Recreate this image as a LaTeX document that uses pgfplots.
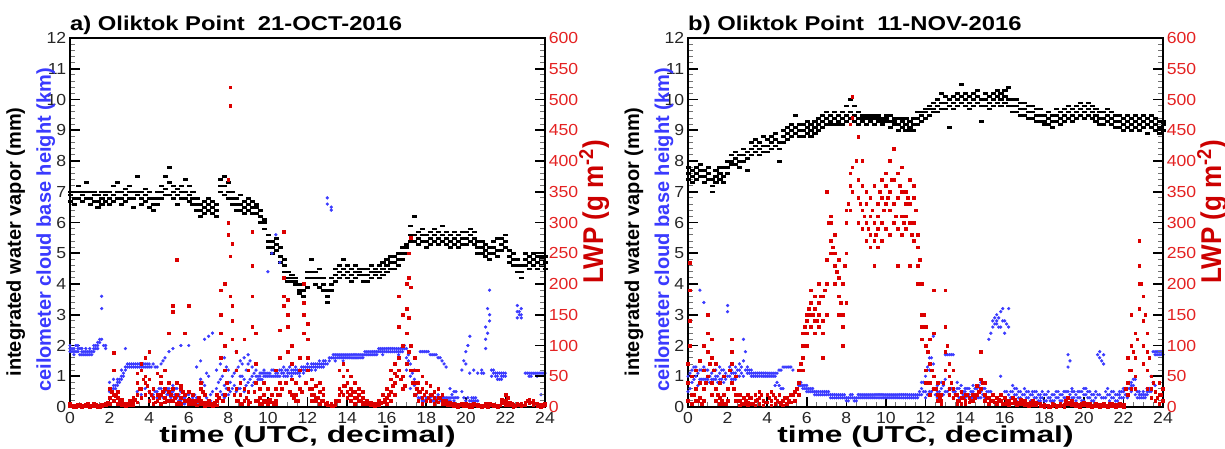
\documentclass[border=0pt]{standalone}
\usepackage{fontspec}
\setmainfont{Liberation Sans}
\usepackage{graphicx}
\usepackage{pgfplots}
\usepackage{pgfplotstable}
\pgfplotsset{compat=1.18}
\definecolor{cbh}{RGB}{58,58,255}
\definecolor{lwp}{RGB}{220,0,0}
\definecolor{lwptick}{RGB}{228,34,34}
\definecolor{lwplab}{RGB}{204,0,0}

% ---------------- Panel a data ----------------
\pgfplotstableread{
t a b c
0.0 6.9 6.7 7.0
0.2 6.8 7.0 6.6
0.4 7.0 6.8 7.2
0.6 6.9 6.7 7.0
0.8 7.0 6.8 7.3
1.0 6.8 6.6 7.0
1.2 6.9 6.7 7.0
1.4 6.7 6.5 6.9
1.6 6.8 7.0 6.6
1.8 6.9 7.0 6.7
2.0 6.8 6.6 7.0
2.2 6.9 7.2 6.7
2.4 7.0 6.8 7.3
2.6 6.8 6.6 7.0
2.8 6.9 7.1 6.7
3.0 7.0 6.8 7.2
3.2 6.8 6.5 7.0
3.4 6.9 7.0 7.5
3.6 6.8 6.6 7.0
3.8 6.7 6.9 7.1
4.0 6.8 6.5 7.0
4.2 6.6 6.8 6.4
4.4 6.8 7.0 6.6
4.6 7.0 6.8 7.2
4.8 6.9 7.1 7.5
5.0 6.9 7.3 7.8
5.2 7.0 6.8 7.2
5.4 6.9 6.6 7.1
5.6 7.0 7.2 6.8
5.8 7.0 7.4 6.8
6.0 6.9 6.7 7.2
6.2 6.8 6.6 7.0
6.4 6.6 6.4 6.8
6.6 6.4 6.6 6.2
6.8 6.5 6.3 6.7
7.0 6.6 6.4 6.8
7.2 6.5 6.7 6.3
7.4 6.4 6.6 6.2
7.6 7.2 7.4 7.0
7.8 7.2 7.5 6.9
8.0 7.0 6.8 7.3
8.2 6.8 6.6 7.0
8.4 6.6 6.4 6.8
8.6 6.6 6.4 6.9
8.8 6.5 6.7 6.3
9.0 6.6 6.8 6.4
9.2 6.5 6.7 6.3
9.4 6.5 6.3 6.6
9.6 6.2 6.0 6.4
9.8 6.0 5.8 6.1
10.0 5.4 5.2 5.6
10.2 5.2 5.0 5.4
10.4 5.3 5.1 5.5
10.6 4.9 4.7 5.2
10.8 4.6 4.8 4.4
11.0 4.2 4.4 4.1
11.2 4.2 4.3 4.1
11.4 4.1 4.0 4.2
11.6 3.8 4.0 3.7
11.8 3.8 3.6 4.0
12.0 4.2 4.4 3.9
12.2 4.4 4.2 4.8
12.4 4.2 4.0 4.4
12.6 4.2 3.9 4.5
12.8 4.0 3.8 4.2
13.0 3.8 3.6 3.4
13.2 4.0 3.8 4.2
13.4 4.3 4.1 4.5
13.6 4.4 4.2 4.6
13.8 4.5 4.3 4.8
14.0 4.4 4.2 4.6
14.2 4.3 4.5 4.1
14.4 4.4 4.2 4.6
14.6 4.5 4.3 4.4
14.8 4.3 4.1 4.5
15.0 4.3 4.1 4.5
15.2 4.4 4.2 4.6
15.4 4.5 4.3 4.4
15.6 4.4 4.6 4.2
15.8 4.5 4.7 4.3
16.0 4.6 4.4 4.8
16.2 4.7 4.5 4.9
16.4 4.7 4.5 4.9
16.6 4.8 4.6 5.0
16.8 5.0 4.8 5.2
17.0 5.2 5.0 5.3
17.2 5.4 5.6 5.9
17.4 5.6 5.4 6.2
17.6 5.5 5.7 5.3
17.8 5.6 5.4 5.8
18.0 5.4 5.6 5.2
18.2 5.5 5.3 5.7
18.4 5.6 5.4 5.8
18.6 5.5 5.7 5.3
18.8 5.4 5.6 5.9
19.0 5.5 5.3 5.7
19.2 5.4 5.6 5.2
19.4 5.5 5.7 5.3
19.6 5.4 5.2 5.6
19.8 5.5 5.3 5.7
20.0 5.5 5.7 5.3
20.2 5.4 5.6 5.8
20.4 5.5 5.3 5.7
20.6 5.2 5.4 5.0
20.8 5.2 5.0 5.4
21.0 5.1 5.3 4.9
21.2 5.0 5.2 4.8
21.4 5.2 5.4 5.0
21.6 5.1 4.9 5.5
21.8 5.3 5.5 5.1
22.0 5.4 5.6 5.2
22.2 4.9 5.1 4.7
22.4 4.8 5.0 4.6
22.6 4.8 4.6 4.4
22.8 4.6 4.4 4.2
23.0 4.8 4.6 5.0
23.2 4.7 4.9 4.5
23.4 4.8 4.6 5.0
23.6 4.7 4.9 4.5
23.8 4.8 4.6 4.9
24.0 4.7 4.9 4.5
}\iwvA

\pgfplotstableread{
t a b c
0.0 1.9 1.8 2.0
0.2 1.8 1.9 1.7
0.4 1.9 1.8 2.0
0.6 1.8 1.7 1.9
0.8 1.8 1.7 1.9
1.0 1.7 1.8 1.9
1.2 1.8 1.9 2.0
1.4 2.0 2.1 1.9
1.6 2.2 3.2 3.6
1.8 2.0 1.9 nan
2.0 0.6 0.8 0.5
2.2 0.6 0.7 0.9
2.4 0.8 0.9 0.7
2.6 1.0 1.2 0.9
2.8 1.3 1.2 1.9
3.0 1.4 1.3 nan
3.2 1.4 1.3 nan
3.4 1.4 1.3 0.5
3.6 1.3 1.4 0.4
3.8 1.4 1.3 0.6
4.0 1.3 1.4 0.5
4.2 1.4 0.4 0.3
4.4 1.3 0.3 0.5
4.6 1.4 0.6 0.4
4.8 1.6 0.3 0.5
5.0 1.8 0.4 0.6
5.2 1.9 0.5 0.7
5.4 0.6 0.4 0.3
5.6 2.0 0.2 0.5
5.8 0.1 0.3 0.2
6.0 2.0 0.2 0.4
6.2 0.1 0.3 nan
6.4 1.3 0.3 0.1
6.6 1.5 0.6 0.9
6.8 2.2 0.7 0.4
7.0 2.3 1.0 0.2
7.2 2.4 0.5 nan
7.4 1.2 0.6 nan
7.6 0.5 0.9 1.4
7.8 1.6 0.3 0.7
8.0 0.4 0.8 1.2
8.2 0.6 1.0 nan
8.4 1.8 1.2 0.5
8.6 1.5 0.6 1.0
8.8 1.6 0.9 0.5
9.0 1.4 0.8 1.7
9.2 1.0 0.7 1.3
9.4 0.8 1.0 1.2
9.6 1.0 0.9 1.1
9.8 1.0 1.1 1.2
10.0 1.1 1.0 4.4
10.2 1.0 1.2 5.0
10.4 1.1 1.0 5.6
10.6 1.2 1.0 4.7
10.8 1.1 1.3 1.0
11.0 1.0 1.2 1.1
11.2 1.2 1.1 1.0
11.4 1.1 1.3 1.2
11.6 1.2 1.1 1.0
11.8 1.2 1.3 1.1
12.0 1.3 1.2 1.4
12.2 1.2 1.4 1.3
12.4 1.3 1.4 1.2
12.6 1.4 1.3 1.5
12.8 1.3 1.5 1.4
13.0 1.4 6.6 6.8
13.2 1.6 6.4 6.5
13.4 1.6 1.7 1.5
13.6 1.6 1.7 nan
13.8 1.6 1.5 1.7
14.0 1.6 1.7 nan
14.2 1.6 1.7 nan
14.4 1.6 1.7 nan
14.6 1.7 1.6 nan
14.8 1.7 1.6 nan
15.0 1.7 1.8 nan
15.2 1.7 1.8 nan
15.4 1.8 1.7 nan
15.6 1.8 1.9 nan
15.8 1.8 1.9 1.7
16.0 1.9 1.8 nan
16.2 1.8 1.9 nan
16.4 1.9 1.8 nan
16.6 1.8 1.9 1.7
16.8 1.9 2.0 1.8
17.0 1.9 1.6 1.2
17.2 1.4 1.0 0.6
17.4 0.7 0.9 1.2
17.6 0.8 0.3 nan
17.8 1.8 0.3 0.2
18.0 1.8 0.3 0.2
18.2 1.7 0.3 0.4
18.4 1.7 0.2 0.3
18.6 1.6 0.3 0.4
18.8 1.5 0.3 0.2
19.0 1.3 0.2 0.3
19.2 0.3 0.2 0.6
19.4 0.3 0.5 0.2
19.6 0.3 nan nan
19.8 1.2 0.5 nan
20.0 1.8 1.4 0.2
20.2 2.3 1.1 0.2
20.4 1.2 0.3 0.2
20.6 1.1 0.2 nan
20.8 1.1 1.2 nan
21.0 2.2 1.9 2.6
21.2 3.0 3.8 2.8
21.4 1.1 1.2 nan
21.6 1.0 0.9 1.1
21.8 1.0 1.1 0.9
22.0 1.0 1.1 nan
22.6 3.1 2.9 3.3
22.8 3.0 3.2 2.9
23.0 1.1 nan nan
23.2 1.1 1.0 nan
23.4 1.1 nan nan
23.6 1.1 1.0 nan
23.8 1.1 0.4 nan
24.0 1.1 nan nan
}\cbhA

% extra cloud-base samples between the rows above (panel a)
\pgfplotstableread{
t a b
0.1 1.9 1.8
0.3 1.8 2.0
0.5 1.9 1.7
0.7 1.8 1.7
0.9 1.7 1.8
1.1 1.8 1.7
1.3 1.9 2.0
1.5 2.1 2.2
1.7 2.0 nan
2.1 0.6 0.5
2.3 0.7 0.6
2.5 0.9 0.8
2.7 1.1 1.0
2.9 1.3 1.4
3.1 1.3 1.4
3.3 1.3 1.4
3.5 1.4 1.3
3.7 1.3 1.4
3.9 1.4 1.3
4.1 1.3 0.4
4.3 1.3 0.5
4.5 0.4 0.6
4.7 1.5 0.3
4.9 0.4 0.6
5.1 0.5 0.3
5.3 0.6 0.4
5.5 0.2 0.4
5.7 0.3 0.1
5.9 0.2 0.4
6.1 0.2 0.1
6.3 0.2 0.4
6.7 0.8 0.5
6.9 0.3 1.1
7.1 0.4 0.2
7.5 0.8 0.3
7.7 1.0 0.4
7.9 0.6 1.3
8.1 0.8 0.5
8.3 1.1 0.7
8.5 1.3 0.6
8.7 1.0 1.4
8.9 0.7 1.2
9.1 0.9 1.5
9.3 1.1 0.8
9.5 1.0 0.9
9.7 1.1 0.9
9.9 1.0 1.1
10.1 1.1 1.0
10.3 1.0 1.2
10.5 1.1 1.0
10.7 1.1 1.2
10.9 1.2 1.0
11.1 1.1 1.3
11.3 1.1 1.2
11.5 1.1 1.2
11.7 1.2 1.3
11.9 1.3 1.2
12.1 1.3 1.2
12.3 1.3 1.4
12.5 1.4 1.3
12.7 1.4 1.3
12.9 1.5 1.4
13.1 1.6 1.5
13.3 1.6 1.7
13.5 1.7 1.6
13.7 1.6 1.7
13.9 1.7 1.6
14.1 1.6 1.7
14.3 1.7 1.6
14.5 1.7 1.6
14.7 1.7 1.6
14.9 1.7 1.8
15.1 1.8 1.7
15.3 1.8 1.7
15.5 1.8 1.7
15.7 1.8 1.9
15.9 1.9 1.8
16.1 1.8 1.9
16.3 1.9 1.8
16.5 1.8 1.9
16.7 1.9 1.8
16.9 2.0 1.9
17.1 1.7 1.5
17.3 0.8 1.1
17.5 0.6 0.4
17.7 1.8 0.3
17.9 1.8 0.2
18.1 1.8 0.3
18.3 1.7 0.2
18.5 1.7 0.3
18.7 1.6 0.2
18.9 1.4 0.3
19.1 0.3 0.2
19.3 0.3 0.4
19.5 0.5 0.3
19.9 1.5 0.3
20.1 2.0 0.3
20.3 0.2 0.3
20.5 0.2 0.3
20.9 1.1 nan
21.1 3.2 2.4
21.3 1.2 1.0
21.5 1.1 1.0
21.7 0.9 1.1
21.9 1.0 1.1
22.7 3.0 3.1
23.1 1.1 nan
23.3 1.1 1.0
23.5 1.1 nan
23.7 1.1 nan
23.9 1.1 nan
}\cbhAx

\pgfplotstableread{
t a b c d
0.0 2 5 nan nan
0.2 3 1 nan nan
0.4 2 4 nan nan
0.6 3 1 nan nan
0.8 2 4 nan nan
1.0 3 1 nan nan
1.2 2 5 nan nan
1.4 3 1 nan nan
1.6 2 4 nan nan
1.8 3 6 nan nan
2.0 5 15 30 nan
2.2 20 10 60 88
2.4 15 25 5 nan
2.6 8 3 12 nan
2.8 5 2 nan nan
3.0 6 10 3 nan
3.2 10 4 15 nan
3.4 20 40 8 55
3.6 30 60 70 15
3.8 50 40 80 20
4.0 90 25 10 45
4.2 15 5 30 nan
4.4 10 20 55 nan
4.6 40 50 20 5
4.8 30 15 60 8
5.0 120 25 10 40
5.2 155 165 30 10
5.4 240 40 20 5
5.6 30 15 5 35
5.8 120 20 10 nan
6.0 165 25 5 12
6.2 20 10 5 nan
6.4 10 3 nan nan
6.6 30 10 40 5
6.8 20 8 2 nan
7.0 10 4 nan nan
7.2 5 2 nan nan
7.4 20 10 3 nan
7.6 80 120 150 190
7.8 200 100 60 20
8.0 370 300 280 30
8.1 520 490 245 180
8.2 265 165 140 110
8.4 90 60 30 10
8.6 20 40 5 nan
8.8 110 30 10 nan
9.0 60 25 10 5
9.2 285 230 180 130
9.4 120 40 70 10
9.6 30 15 5 nan
9.8 20 40 10 nan
10.0 10 30 5 nan
10.2 20 8 nan nan
10.4 60 30 10 5
10.6 125 40 80 20
10.8 285 210 180 165
11.0 175 150 130 90
11.2 100 70 45 20
11.4 40 20 10 nan
11.6 60 30 80 nan
11.8 200 170 150 120
12.0 135 110 80 60
12.2 45 30 20 10
12.4 35 15 10 nan
12.6 40 25 5 nan
12.8 20 30 10 nan
13.0 8 3 nan nan
13.2 5 2 nan nan
13.4 10 4 nan nan
13.6 30 20 60 10
13.8 50 35 70 20
14.0 40 25 15 60
14.2 30 50 20 10
14.4 40 25 15 5
14.6 30 20 10 nan
14.8 25 15 5 nan
15.0 10 5 nan nan
15.2 8 3 nan nan
15.4 5 2 nan nan
15.6 10 3 nan nan
15.8 8 20 nan nan
16.0 30 15 5 nan
16.2 45 25 60 10
16.4 55 40 70 20
16.6 80 130 180 60
16.8 150 100 50 30
17.0 200 160 120 70
17.1 250 210 145 90
17.2 275 195 100 60
17.4 80 60 40 20
17.6 60 40 25 10
17.8 50 30 15 5
18.0 40 25 10 nan
18.2 35 20 10 nan
18.4 25 15 5 nan
18.6 30 15 8 nan
18.8 20 10 5 nan
19.0 10 5 nan nan
19.2 8 3 nan nan
19.4 5 2 nan nan
19.6 4 1 nan nan
19.8 3 6 nan nan
20.0 2 5 nan nan
20.2 4 1 nan nan
20.4 3 6 nan nan
20.6 2 4 nan nan
20.8 3 1 nan nan
21.0 5 2 nan nan
21.2 3 6 nan nan
21.4 2 4 nan nan
21.6 3 1 nan nan
21.8 6 12 nan nan
22.0 20 10 4 nan
22.2 8 3 nan nan
22.4 4 1 nan nan
22.6 3 6 nan nan
22.8 2 5 nan nan
23.0 8 3 nan nan
23.2 12 6 nan nan
23.4 10 4 nan nan
23.6 6 2 nan nan
23.8 4 1 nan nan
24.0 3 6 nan nan
}\lwpA

% extra LWP samples between the rows above (panel a)
\pgfplotstableread{
t a
0.1 3
0.3 1
0.5 4
0.7 2
0.9 5
1.1 2
1.3 4
1.5 1
1.7 3
1.9 8
2.1 25
2.3 18
2.5 10
2.7 6
2.9 3
3.1 5
3.3 12
3.5 30
3.7 45
3.9 35
4.1 20
4.3 8
4.5 15
4.7 25
4.9 10
5.1 20
5.3 15
5.5 8
5.7 25
5.9 10
6.1 5
6.3 8
6.5 15
6.7 25
6.9 5
7.1 3
7.3 8
7.5 15
7.7 10
7.9 40
8.3 20
8.5 10
8.7 5
8.9 15
9.1 8
9.3 25
9.5 10
9.7 5
9.9 8
10.1 12
10.3 5
10.5 20
10.7 30
10.9 40
11.1 25
11.3 15
11.5 10
11.7 25
11.9 40
12.1 30
12.3 20
12.5 15
12.7 10
12.9 5
13.1 3
13.3 2
13.5 10
13.7 25
13.9 35
14.1 20
14.3 25
14.5 15
14.7 10
14.9 8
15.1 5
15.3 3
15.5 4
15.7 6
15.9 12
16.1 20
16.3 35
16.5 50
16.7 45
16.9 35
17.3 40
17.5 30
17.7 25
17.9 20
18.1 15
18.3 20
18.5 10
18.7 15
18.9 8
19.1 4
19.3 3
19.5 2
19.7 4
19.9 2
20.1 3
20.3 1
20.5 4
20.7 2
20.9 3
21.1 1
21.3 4
21.5 2
21.7 3
21.9 8
22.1 15
22.3 5
22.5 2
22.7 4
22.9 3
23.1 10
23.3 8
23.5 6
23.7 3
23.9 2
}\lwpAx

% ---------------- Panel b data ----------------
\pgfplotstableread{
t a b c
0.0 7.6 7.4 7.8
0.2 7.5 7.7 7.3
0.4 7.6 7.8 7.4
0.6 7.7 7.5 7.9
0.8 7.5 7.3 7.7
1.0 7.6 7.4 7.8
1.2 7.4 7.2 7.0
1.4 7.5 7.7 7.3
1.6 7.6 7.4 7.8
1.8 7.5 7.3 7.8
2.0 7.8 8.0 7.6
2.2 8.0 8.2 7.9
2.4 8.1 7.9 8.3
2.6 8.0 8.2 7.8
2.8 8.2 8.0 8.4
3.0 8.3 8.1 7.7
3.2 8.4 8.2 8.6
3.4 8.5 8.3 8.7
3.6 8.4 8.6 8.2
3.8 8.5 8.3 8.8
4.0 8.5 8.7 8.3
4.2 8.6 8.4 8.8
4.4 8.7 8.5 8.9
4.6 8.6 8.4 8.0
4.8 8.8 8.6 9.0
5.0 8.9 8.7 9.1
5.2 9.0 8.8 9.2
5.4 9.1 8.9 9.5
5.6 9.0 9.2 8.8
5.8 9.0 8.8 9.2
6.0 9.1 8.9 9.3
6.2 9.0 9.2 8.8
6.4 9.1 8.9 9.3
6.6 9.2 9.0 9.4
6.8 9.3 9.1 9.5
7.0 9.4 9.2 9.6
7.2 9.3 9.5 9.2
7.4 9.4 9.2 9.6
7.6 9.3 9.5 9.2
7.8 9.4 9.2 9.6
8.0 9.5 9.3 9.8
8.2 9.4 9.6 10.0
8.4 9.3 9.5 9.8
8.6 9.4 9.2 9.6
8.8 9.4 9.3 9.5
9.0 9.4 9.2 9.5
9.2 9.3 9.5 9.4
9.4 9.4 9.2 9.5
9.6 9.3 9.5 9.4
9.8 9.4 9.2 9.3
10.0 9.3 9.5 9.4
10.2 9.3 9.1 9.5
10.4 9.4 9.2 9.3
10.6 9.2 9.0 9.4
10.8 9.3 9.1 9.4
11.0 9.2 9.0 9.4
11.2 9.1 9.3 9.0
11.4 9.2 9.0 9.4
11.6 9.4 9.2 9.6
11.8 9.5 9.3 9.6
12.0 9.6 9.4 9.7
12.2 9.7 9.5 9.8
12.4 9.7 9.9 9.6
12.6 9.8 10.0 9.6
12.8 9.9 9.7 10.2
13.0 9.9 9.7 10.1
13.2 10.0 9.8 9.1
13.4 9.9 10.1 9.7
13.6 10.0 9.8 10.2
13.8 10.1 9.9 10.5
14.0 10.0 9.8 10.2
14.2 9.9 10.1 9.7
14.4 10.0 9.8 10.2
14.6 9.9 10.1 10.3
14.8 10.0 9.8 9.3
15.0 10.0 9.8 10.2
15.2 9.9 10.1 9.7
15.4 10.0 9.8 10.2
15.6 9.9 10.1 10.3
15.8 10.0 9.8 10.2
16.0 10.1 9.9 10.3
16.2 10.0 9.8 10.4
16.4 9.8 10.0 9.6
16.6 9.8 9.6 10.0
16.8 9.7 9.9 9.5
17.0 9.7 9.5 9.9
17.2 9.6 9.4 9.8
17.4 9.6 9.8 9.4
17.6 9.5 9.7 9.3
17.8 9.5 9.3 9.7
18.0 9.5 9.3 9.2
18.2 9.4 9.6 9.2
18.4 9.5 9.3 9.1
18.6 9.5 9.7 9.3
18.8 9.4 9.2 9.6
19.0 9.5 9.3 9.7
19.2 9.6 9.4 9.8
19.4 9.5 9.7 9.3
19.6 9.6 9.4 9.8
19.8 9.7 9.5 9.9
20.0 9.6 9.8 9.4
20.2 9.7 9.5 9.9
20.4 9.6 9.4 9.8
20.6 9.5 9.3 9.7
20.8 9.4 9.6 9.2
21.0 9.4 9.2 9.6
21.2 9.5 9.3 9.7
21.4 9.4 9.2 9.6
21.6 9.3 9.5 9.1
21.8 9.3 9.1 9.5
22.0 9.2 9.4 9.0
22.2 9.3 9.1 9.5
22.4 9.2 9.4 9.0
22.6 9.3 9.1 9.5
22.8 9.2 9.4 9.0
23.0 9.3 9.1 9.5
23.2 9.2 9.4 8.9
23.4 9.3 9.1 9.5
23.6 9.2 9.4 9.0
23.8 9.1 9.3 8.9
24.0 9.2 9.0 9.3
}\iwvB

\pgfplotstableread{
t a b c
0.0 0.5 1.0 0.2
0.2 0.8 1.2 0.4
0.4 1.0 1.3 0.6
0.6 1.2 0.9 3.8
0.8 0.9 1.3 3.4
1.0 0.9 1.2 1.0
1.2 0.8 1.1 0.9
1.4 0.9 1.2 1.0
1.6 1.1 0.9 1.3
1.8 1.0 1.2 0.8
2.0 1.0 3.3 3.1
2.2 1.2 0.9 1.1
2.4 1.1 1.3 0.9
2.6 1.2 1.0 1.4
2.8 1.5 2.2 1.0
3.0 1.2 1.1 1.3
3.2 1.1 1.2 1.0
3.4 1.1 1.0 nan
3.6 1.0 1.1 nan
3.8 1.0 1.1 nan
4.0 1.0 1.1 nan
4.2 1.0 1.1 nan
4.4 1.1 1.0 0.7
4.6 1.2 0.7 nan
4.8 1.3 0.6 nan
5.0 1.3 nan nan
5.2 1.3 nan nan
5.6 0.8 0.7 nan
5.8 0.7 0.6 nan
6.0 0.6 0.5 0.7
6.2 0.5 0.6 nan
6.4 0.5 0.4 nan
6.6 0.5 0.4 nan
6.8 0.4 0.5 nan
7.0 0.4 0.5 nan
7.2 0.4 0.3 nan
7.4 0.4 0.3 nan
7.6 0.3 0.4 nan
7.8 0.3 0.4 nan
8.0 0.3 0.2 nan
8.2 0.3 0.4 nan
8.4 0.3 0.2 nan
8.6 0.3 0.4 nan
8.8 0.3 0.4 nan
9.0 0.4 0.3 nan
9.2 0.3 0.4 nan
9.4 0.3 0.4 nan
9.6 0.4 0.3 nan
9.8 0.3 0.4 nan
10.0 0.3 0.4 nan
10.2 0.4 0.3 nan
10.4 0.3 0.4 nan
10.6 0.3 0.4 nan
10.8 0.4 0.3 nan
11.0 0.3 0.4 nan
11.2 0.4 0.3 nan
11.4 0.4 0.3 nan
11.6 0.4 0.3 nan
11.8 0.6 0.8 0.4
12.0 1.0 0.5 0.3
12.2 1.6 1.2 0.5
12.4 2.3 1.4 0.6
12.6 0.5 0.7 0.3
12.8 0.6 0.4 0.8
13.0 1.7 0.5 0.9
13.2 1.7 0.6 0.4
13.4 1.7 0.5 0.3
13.6 0.6 0.4 0.8
13.8 0.5 0.3 0.7
14.0 0.5 0.3 0.6
14.2 0.6 0.4 0.3
14.4 0.5 0.3 0.7
14.6 0.4 0.6 0.3
14.8 0.5 0.3 0.8
15.0 0.4 0.6 0.3
15.2 2.2 0.5 0.3
15.4 2.6 2.8 0.4
15.6 2.8 3.0 2.7
15.8 3.1 2.6 1.0
16.0 2.8 2.4 0.5
16.2 3.2 2.6 0.4
16.4 0.5 0.3 0.7
16.6 0.4 0.2 0.6
16.8 0.5 0.3 nan
17.0 0.4 0.2 0.6
17.2 0.3 0.5 nan
17.4 0.4 0.2 0.5
17.6 0.3 0.5 nan
17.8 0.3 0.2 0.4
18.0 0.2 0.4 nan
18.2 0.3 0.5 nan
18.4 0.4 0.2 nan
18.6 0.3 0.5 nan
18.8 0.4 0.2 nan
19.0 0.5 0.3 nan
19.2 1.3 1.7 0.5
19.4 0.5 0.3 0.6
19.6 0.4 0.2 nan
19.8 0.3 0.5 nan
20.0 0.4 0.2 0.6
20.2 0.5 0.3 nan
20.4 0.4 0.2 nan
20.6 0.5 0.3 nan
20.8 1.6 1.8 0.4
21.0 1.4 1.7 0.3
21.2 0.4 0.6 nan
21.4 0.3 0.5 nan
21.6 0.4 0.2 nan
21.8 0.5 0.3 0.4
22.0 0.5 0.3 0.6
22.2 0.4 0.6 0.3
22.4 0.7 0.8 0.5
22.6 0.6 0.9 0.4
22.8 0.4 0.3 0.5
23.0 0.3 0.4 0.5
23.2 0.5 0.4 0.6
23.4 1.0 0.6 0.5
23.6 1.8 1.7 0.7
23.8 1.8 1.7 nan
24.0 1.7 nan nan
}\cbhB

% extra cloud-base samples between the rows above (panel b)
\pgfplotstableread{
t a b
0.1 0.6 1.1
0.3 0.9 1.3
0.5 1.1 0.7
0.7 1.2 0.9
0.9 0.9 1.2
1.1 1.0 0.8
1.3 0.9 1.2
1.5 1.0 0.8
1.7 1.2 0.9
1.9 1.1 0.9
2.1 1.0 1.3
2.3 1.1 0.9
2.5 1.2 1.0
2.7 1.3 1.1
2.9 1.8 1.2
3.1 1.1 1.2
3.3 1.1 1.0
3.5 1.1 1.0
3.7 1.0 1.1
3.9 1.0 1.1
4.1 1.0 1.1
4.3 1.1 1.0
4.5 1.1 0.8
4.7 1.2 0.6
4.9 1.3 nan
5.1 1.3 nan
5.3 1.2 nan
5.7 0.8 0.7
5.9 0.6 0.7
6.1 0.6 0.5
6.3 0.5 0.6
6.5 0.5 0.4
6.7 0.5 0.4
6.9 0.4 0.5
7.1 0.4 0.5
7.3 0.4 0.3
7.5 0.4 0.3
7.7 0.3 0.4
7.9 0.3 0.4
8.1 0.3 0.2
8.3 0.3 0.4
8.5 0.3 0.2
8.7 0.3 0.4
8.9 0.4 0.3
9.1 0.3 0.4
9.3 0.3 0.4
9.5 0.4 0.3
9.7 0.3 0.4
9.9 0.4 0.3
10.1 0.3 0.4
10.3 0.4 0.3
10.5 0.3 0.4
10.7 0.4 0.3
10.9 0.3 0.4
11.1 0.4 0.3
11.3 0.3 0.4
11.5 0.4 0.3
11.7 0.5 0.4
11.9 0.8 0.5
12.1 1.3 0.4
12.3 1.6 0.5
12.5 0.6 0.4
12.7 0.5 0.3
12.9 0.7 0.4
13.1 1.7 0.5
13.3 1.7 0.6
13.5 0.5 0.4
13.7 0.6 0.3
13.9 0.5 0.4
14.1 0.4 0.6
14.3 0.5 0.3
14.5 0.6 0.4
14.7 0.7 0.3
14.9 0.4 0.6
15.1 0.5 0.3
15.3 2.4 0.5
15.5 2.9 2.7
15.7 2.9 2.6
15.9 2.8 3.2
16.1 2.7 0.5
16.3 0.5 0.3
16.5 0.4 0.6
16.7 0.3 0.5
16.9 0.4 0.2
17.1 0.5 0.3
17.3 0.4 0.2
17.5 0.3 0.5
17.7 0.4 0.2
17.9 0.3 0.5
18.1 0.4 0.2
18.3 0.3 0.2
18.5 0.2 0.4
18.7 0.3 0.5
18.9 0.4 0.2
19.1 0.3 0.5
19.3 1.5 0.4
19.5 0.5 0.3
19.7 0.3 0.5
19.9 0.5 0.2
20.1 0.4 0.6
20.3 0.3 0.5
20.5 0.4 0.2
20.7 1.7 0.4
20.9 1.5 0.3
21.1 0.5 0.3
21.3 0.4 0.2
21.5 0.5 0.3
21.7 0.4 0.2
21.9 0.5 0.3
22.1 0.4 0.6
22.3 0.8 0.6
22.5 0.9 0.7
22.7 0.5 0.3
22.9 0.3 0.4
23.1 0.4 0.3
23.3 0.6 0.5
23.5 1.8 0.8
23.7 1.8 1.7
23.9 1.8 1.7
}\cbhBx

\pgfplotstableread{
t a b c d
0.0 10 40 70 nan
0.1 235 190 140 100
0.2 50 20 5 nan
0.4 30 10 60 nan
0.6 40 15 75 nan
0.8 100 60 30 10
1.0 150 120 90 50
1.2 110 80 40 20
1.4 70 30 10 nan
1.6 40 15 5 nan
1.8 50 20 5 nan
2.0 30 10 nan nan
2.2 110 90 70 40
2.4 50 20 10 nan
2.6 20 10 3 nan
2.8 15 5 nan nan
3.0 20 8 3 nan
3.2 15 5 nan nan
3.4 20 10 3 nan
3.6 15 5 25 nan
3.8 10 3 nan nan
4.0 20 8 nan nan
4.2 25 10 3 nan
4.4 15 5 nan nan
4.6 20 8 nan nan
4.8 10 3 nan nan
5.0 15 5 nan nan
5.2 20 8 nan nan
5.4 25 10 nan nan
5.6 40 20 60 nan
5.8 100 80 120 60
6.0 140 120 100 150
6.2 170 150 130 190
6.4 160 140 180 120
6.6 200 170 130 150
6.8 180 140 80 120
7.0 240 200 150 350
7.2 300 310 270 250
7.4 250 280 230 200
7.6 240 210 180 150
7.8 150 100 130 200
8.0 320 300 250 170
8.2 380 360 320 460
8.3 505 470 390 350
8.6 440 370 340 300
8.8 360 320 290 400
9.0 330 300 270 350
9.2 310 280 260 340
9.4 300 270 230 360
9.6 330 290 260 310
9.8 370 340 300 270
10.0 360 330 290 380
10.2 350 320 280 400
10.4 420 370 330 300
10.6 380 340 290 230
10.8 390 350 310 280
11.0 350 330 290 310
11.2 370 330 300 230
11.4 340 300 270 360
11.6 260 230 280 200
11.8 200 150 110 130
12.0 130 100 60 40
12.2 110 70 40 20
12.4 190 120 50 30
12.6 40 20 10 nan
12.8 20 10 5 nan
13.0 190 130 90 60
13.2 70 50 30 20
13.4 30 15 60 nan
13.6 20 10 5 nan
13.8 15 25 5 nan
14.0 10 20 5 nan
14.2 15 8 nan nan
14.4 20 10 nan nan
14.6 35 20 nan nan
14.8 45 90 30 nan
15.0 20 10 40 nan
15.2 15 5 nan nan
15.4 10 20 nan nan
15.6 15 5 nan nan
15.8 20 10 nan nan
16.0 15 5 nan nan
16.2 10 4 nan nan
16.4 15 6 nan nan
16.6 8 3 nan nan
16.8 12 5 nan nan
17.0 10 4 nan nan
17.2 6 2 nan nan
17.4 10 4 nan nan
17.6 8 3 nan nan
17.8 5 2 nan nan
18.0 4 1 nan nan
18.2 3 1 nan nan
18.4 5 2 nan nan
18.6 3 1 nan nan
18.8 6 2 nan nan
19.0 4 1 nan nan
19.2 15 5 nan nan
19.4 10 4 nan nan
19.6 6 2 nan nan
19.8 4 1 nan nan
20.0 8 3 nan nan
20.2 5 2 nan nan
20.4 3 1 nan nan
20.6 6 2 nan nan
20.8 4 1 nan nan
21.0 5 2 nan nan
21.2 3 1 nan nan
21.4 6 2 nan nan
21.6 4 1 nan nan
21.8 5 2 nan nan
22.0 4 1 nan nan
22.2 80 40 20 nan
22.4 150 100 60 30
22.6 120 80 50 30
22.8 270 230 200 160
23.0 180 140 100 70
23.2 120 90 60 30
23.4 50 30 15 nan
23.6 25 10 nan nan
23.8 20 40 5 nan
24.0 30 10 nan nan
}\lwpB

% extra LWP samples between the rows above (panel b)
\pgfplotstableread{
t a
0.3 20
0.5 10
0.7 5
0.9 40
1.1 70
1.3 60
1.5 20
1.7 10
1.9 5
2.1 60
2.3 30
2.5 10
2.7 5
2.9 10
3.1 15
3.3 5
3.5 12
3.7 20
3.9 8
4.1 15
4.3 20
4.5 10
4.7 5
4.9 15
5.1 10
5.3 20
5.5 30
5.7 70
5.9 130
6.1 160
6.3 150
6.5 140
6.7 180
6.9 190
7.1 300
7.3 260
7.5 220
7.7 170
7.9 230
8.1 330
8.5 400
8.7 330
8.9 310
9.1 290
9.3 320
9.5 280
9.7 350
9.9 320
10.1 340
10.3 370
10.5 310
10.7 360
10.9 300
11.1 340
11.3 280
11.5 320
11.7 240
11.9 150
12.1 90
12.3 60
12.5 30
12.7 15
12.9 40
13.1 100
13.3 40
13.5 20
13.7 10
13.9 15
14.1 20
14.3 10
14.5 15
14.7 25
14.9 40
15.1 15
15.3 10
15.5 8
15.7 12
15.9 5
16.1 10
16.3 6
16.5 12
16.7 5
16.9 8
17.1 4
17.3 7
17.5 3
17.7 6
17.9 2
18.1 3
18.3 1
18.5 4
18.7 2
18.9 3
19.1 10
19.3 8
19.5 4
19.7 2
19.9 5
20.1 3
20.3 6
20.5 2
20.7 4
20.9 3
21.1 2
21.3 5
21.5 3
21.7 4
21.9 2
22.1 30
22.3 60
22.5 90
22.7 110
22.9 200
23.1 150
23.3 80
23.5 40
23.7 15
23.9 20
}\lwpBx

\pgfplotsset{
  common/.style={
    scale only axis, width=475pt, height=369pt, anchor=south west,
    xmin=0, xmax=24,
    tick align=inside,
    major tick length=10pt, minor tick length=5pt,
    every major tick/.append style={line width=1.6pt, black},
    every minor tick/.append style={line width=0.8pt, black!55},
    axis line style={line width=2pt, -},
    tick label style={font=\fontsize{16}{16}\selectfont, xscale=1.1},
    /pgf/number format/assume math mode=true,
  },
  leftax/.style={common,
    ymin=0, ymax=12,
    xtick distance=2, minor x tick num=3,
    ytick distance=1, minor y tick num=4,
    xtick pos=bottom, ytick pos=left,
    ticklabel style={text=black!85},
    xticklabel style={yshift=-2pt},
    xlabel={\scalebox{1.38}[1]{time (UTC, decimal)}},
    xlabel style={font=\bfseries\fontsize{23}{23}\selectfont, at={(axis description cs:0.5,0)}, anchor=base, yshift=-36pt},
  },
  rightax/.style={common,
    ymin=0, ymax=600,
    axis x line=none, axis y line*=right,
    ytick distance=50, minor y tick num=4,
    yticklabel style={text=lwptick},
  },
  iwv/.style={only marks, mark=square*, mark size=0.85pt, black, mark options={xscale=2.4, draw=none, fill=black}},
  cbhm/.style={only marks, mark=*, mark size=1.45pt, cbh, mark options={draw=none, fill=cbh}},
  lwpm/.style={only marks, mark=square*, mark size=1.35pt, lwp, mark options={draw=none, fill=lwp}},
}

\begin{document}
\begin{tikzpicture}
\useasboundingbox (-70pt,-42pt) rectangle (1155pt,407pt);

% ===== Panel a =====
\begin{axis}[leftax, at={(0pt,0pt)}]
\addplot[iwv] table[x=t,y=a] {\iwvA};
\addplot[iwv] table[x=t,y=b] {\iwvA};
\addplot[iwv] table[x=t,y=c] {\iwvA};
\addplot[cbhm] table[x=t,y=a] {\cbhA};
\addplot[cbhm] table[x=t,y=b] {\cbhA};
\addplot[cbhm] table[x=t,y=c] {\cbhA};
\addplot[cbhm] table[x=t,y=a] {\cbhAx};
\addplot[cbhm] table[x=t,y=b] {\cbhAx};
\end{axis}
\begin{axis}[rightax, at={(0pt,0pt)}]
\addplot[lwpm] table[x=t,y=a] {\lwpAx};
\addplot[lwpm] table[x=t,y=a] {\lwpA};
\addplot[lwpm] table[x=t,y=b] {\lwpA};
\addplot[lwpm] table[x=t,y=c] {\lwpA};
\addplot[lwpm] table[x=t,y=d] {\lwpA};
\end{axis}

% ===== Panel b =====
\begin{axis}[leftax, at={(618pt,0pt)}]
\addplot[iwv] table[x=t,y=a] {\iwvB};
\addplot[iwv] table[x=t,y=b] {\iwvB};
\addplot[iwv] table[x=t,y=c] {\iwvB};
\addplot[cbhm] table[x=t,y=a] {\cbhB};
\addplot[cbhm] table[x=t,y=b] {\cbhB};
\addplot[cbhm] table[x=t,y=c] {\cbhB};
\addplot[cbhm] table[x=t,y=a] {\cbhBx};
\addplot[cbhm] table[x=t,y=b] {\cbhBx};
\end{axis}
\begin{axis}[rightax, at={(618pt,0pt)}]
\addplot[lwpm] table[x=t,y=a] {\lwpBx};
\addplot[lwpm] table[x=t,y=a] {\lwpB};
\addplot[lwpm] table[x=t,y=b] {\lwpB};
\addplot[lwpm] table[x=t,y=c] {\lwpB};
\addplot[lwpm] table[x=t,y=d] {\lwpB};
\end{axis}

% ===== Titles and side labels =====
\foreach \dx/\ttl in {0/{a) Oliktok Point\ \ 21-OCT-2016}, 618/{b) Oliktok Point\ \ 11-NOV-2016}} {
  \node[anchor=base west, inner sep=0pt, font=\bfseries\fontsize{20}{20}\selectfont] at (\dx pt,376pt) {\scalebox{1.19}[1]{\ttl}};
  \node[rotate=90, anchor=base, inner sep=0pt, font=\bfseries\fontsize{20}{20}\selectfont] at (\dx pt-49pt,165pt) {integrated water vapor (mm)};
  \node[rotate=90, anchor=base, inner sep=0pt, text=cbh, font=\bfseries\fontsize{20}{20}\selectfont] at (\dx pt-19pt,177pt) {ceilometer cloud base height (km)};
  \node[xscale=1.1, rotate=90, anchor=base, inner sep=0pt, text=lwplab, font=\bfseries\fontsize{26}{26}\selectfont] at (\dx pt+533pt,195pt) {LWP (g m\textsuperscript{-2})};
}
\end{tikzpicture}
\end{document}
